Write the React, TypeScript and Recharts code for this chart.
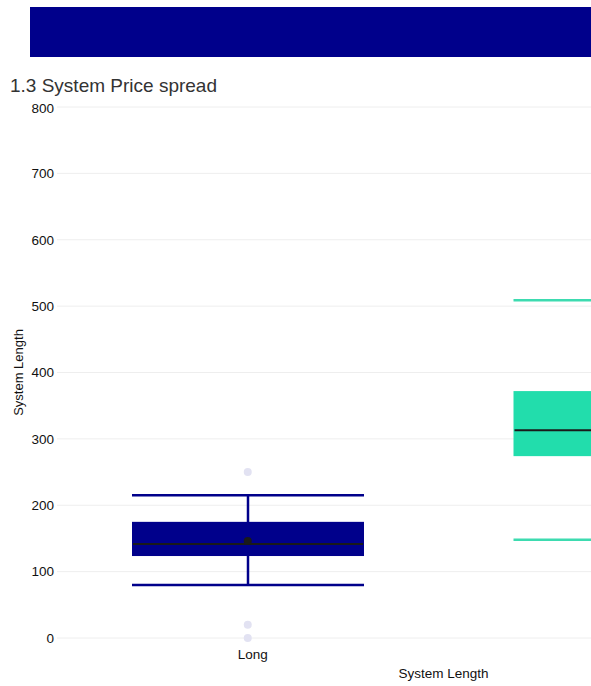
import { ComposedChart, Bar, Scatter, XAxis, YAxis, CartesianGrid } from "recharts";

const categories = ["Long", "Short"];
const whiskerLow = [80, 148];
const q1 = [123.5, 274];
const median = [141.5, 313];
const q3 = [175, 372];
const whiskerHigh = [215, 509];
const means = [146, null];
const outlierA = [250, null];
const outlierB = [20, null];
const outlierC = [0, null];
const yTicks = [0, 100, 200, 300, 400, 500, 600, 700, 800];

const BOX_COLORS = ["#00008B", "#22DDAC"];
const WHISKER_COLORS = ["#00008B", "#3DDBB0"];

const data = categories.map((name, i) => ({
  name,
  range: [whiskerLow[i], whiskerHigh[i]],
  lo: whiskerLow[i],
  hi: whiskerHigh[i],
  q1: q1[i],
  med: median[i],
  q3: q3[i],
  mean: means[i],
  o1: outlierA[i],
  o2: outlierB[i],
  o3: outlierC[i],
  idx: i,
}));

function BoxShape(props: any) {
  const { x, y, width, height, payload } = props;
  const { lo, hi, idx } = payload;
  const pos = (v: number) => y + (height * (hi - v)) / (hi - lo);
  const cx = x + width / 2;
  const yq1 = pos(payload.q1);
  const yq3 = pos(payload.q3);
  const ym = pos(payload.med);
  const wc = WHISKER_COLORS[idx];
  return (
    <g>
      <line x1={cx} x2={cx} y1={y} y2={y + height} stroke={wc} strokeWidth={2.5} />
      <line x1={x} x2={x + width} y1={y} y2={y} stroke={wc} strokeWidth={2.5} />
      <line x1={x} x2={x + width} y1={y + height} y2={y + height} stroke={wc} strokeWidth={2.5} />
      <rect x={x} y={yq3} width={width} height={yq1 - yq3} fill={BOX_COLORS[idx]} />
      <line x1={x + 1} x2={x + width - 1} y1={ym} y2={ym} stroke="#1a1a1a" strokeWidth={2} />
    </g>
  );
}

const dot = (fill: string) => (p: any) =>
  p.cy == null || p.payload == null ? <g /> : <circle cx={p.cx} cy={p.cy} r={4} fill={fill} />;

// the page only shows the first category's label; the second sits past the right edge
function CategoryTick(props: any) {
  const { x, y, payload } = props;
  if (x > 560) return <g />;
  return (
    <text x={x + 5} y={y + 3} dy="0.71em" textAnchor="middle" fill="#111" fontSize={13.5}>
      {payload.value}
    </text>
  );
}

export default function App() {
  const font = "'Liberation Sans', Arial, sans-serif";
  return (
    <div
      style={{
        position: "fixed",
        left: 0,
        top: 0,
        width: 591,
        height: 686,
        overflow: "hidden",
        background: "#fff",
        fontFamily: font,
      }}
    >
      <div style={{ position: "absolute", left: 30, top: 7, width: 561, height: 50, background: "#00008B" }} />
      <div style={{ position: "absolute", left: 10, top: 75, fontSize: 19, color: "#333" }}>
        1.3 System Price spread
      </div>
      <div style={{ position: "absolute", left: 0, top: 100 }}>
        <ComposedChart
          width={820}
          height={586}
          data={data}
          margin={{ top: 7, right: 0, bottom: 3, left: 0 }}
          style={{ fontFamily: font }}
        >
          <CartesianGrid vertical={false} stroke="#eeeeee" />
          <XAxis
            dataKey="name"
            height={45}
            axisLine={false}
            tickLine={false}
            tick={<CategoryTick />}
            label={{ value: "System Length", position: "insideBottom", offset: 5, dx: 5, fill: "#111", fontSize: 13.5 }}
          />
          <YAxis
            width={57}
            domain={[0, 800]}
            ticks={yTicks}
            axisLine={false}
            tickLine={false}
            tickSize={0}
            tickMargin={3}
            tick={{ fill: "#111", fontSize: 13.5 }}
            label={{ value: "System Length", angle: -90, position: "center", dx: -10, fill: "#111", fontSize: 13 }}
          />
          <Scatter dataKey="o1" shape={dot("#E2E2F2")} isAnimationActive={false} />
          <Scatter dataKey="o2" shape={dot("#E2E2F2")} isAnimationActive={false} />
          <Scatter dataKey="o3" shape={dot("#E2E2F2")} isAnimationActive={false} />
          <Bar dataKey="range" barSize={232} shape={<BoxShape />} isAnimationActive={false} />
          <Scatter dataKey="mean" shape={dot("#1a1a1a")} isAnimationActive={false} />
        </ComposedChart>
      </div>
    </div>
  );
}
